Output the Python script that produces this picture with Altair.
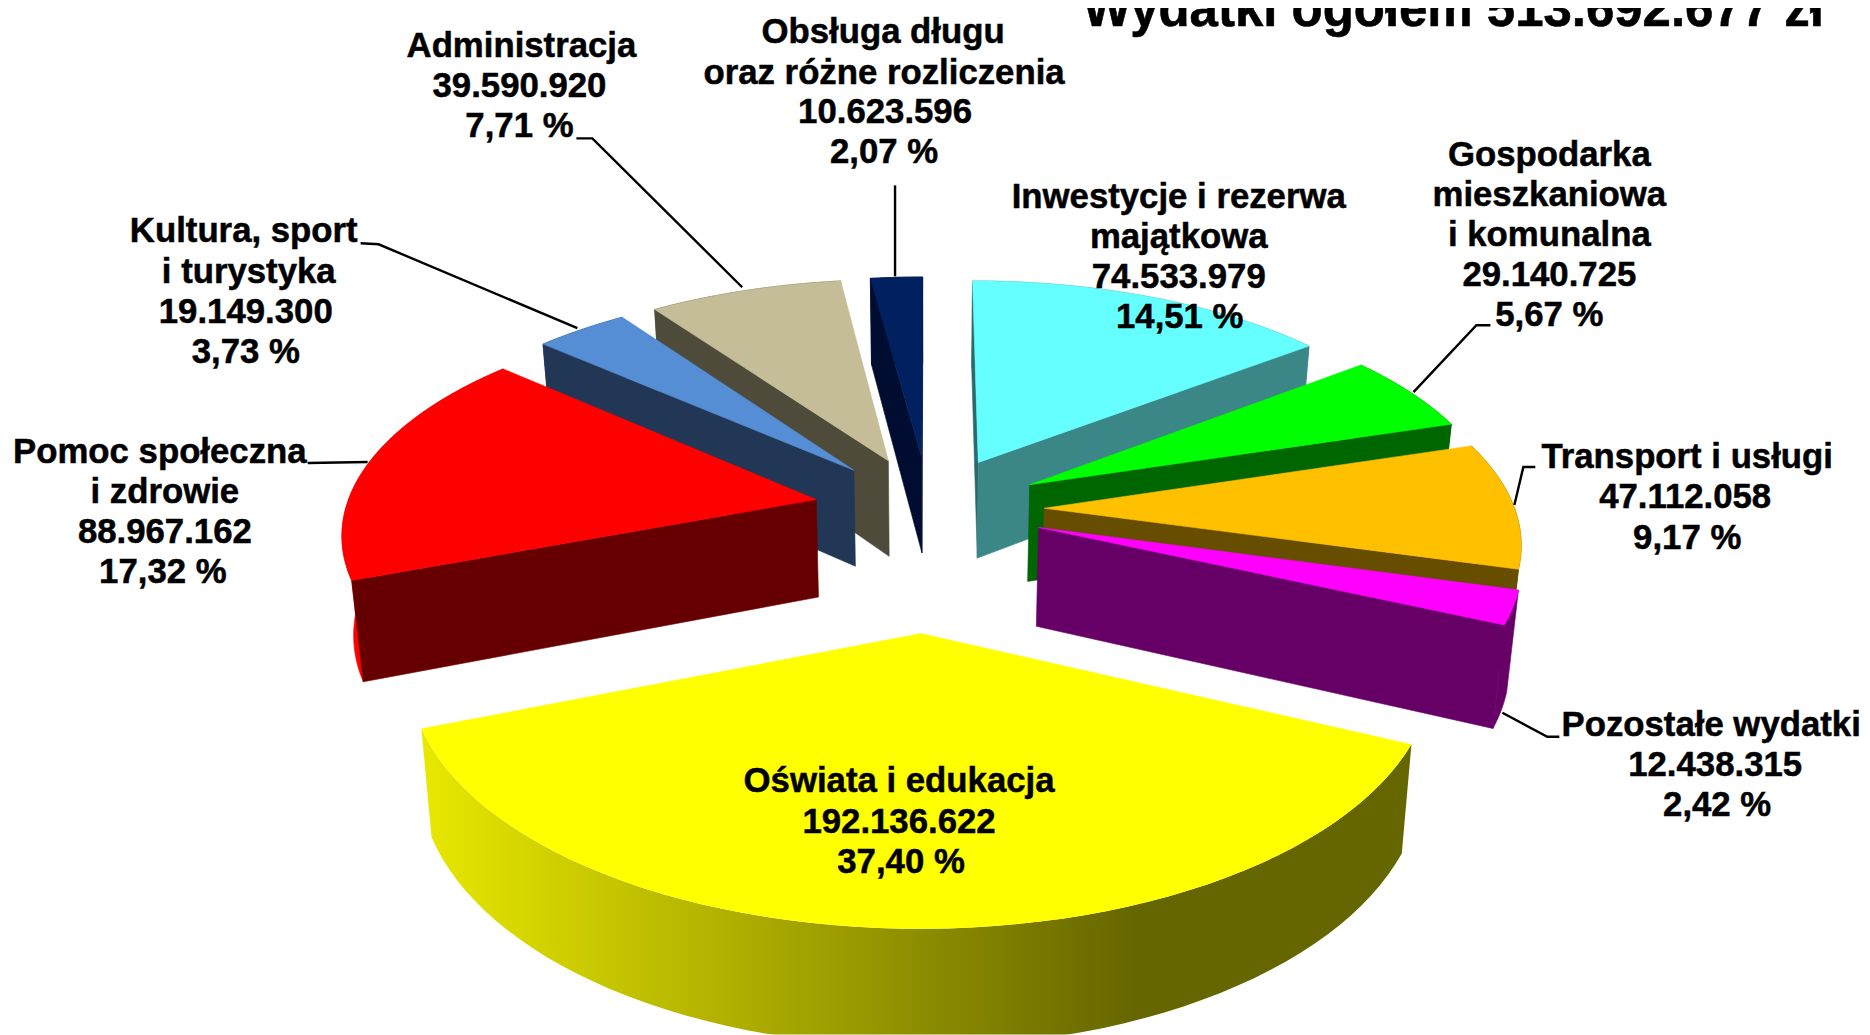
import math
import altair as alt
import pandas as pd

# ---- data ----
CATEGORIES = ["Inwestycje i rezerwa majątkowa", "Gospodarka mieszkaniowa i komunalna",
              "Transport i usługi", "Pozostałe wydatki", "Oświata i edukacja",
              "Pomoc społeczna i zdrowie", "Kultura, sport i turystyka",
              "Administracja", "Obsługa długu oraz różne rozliczenia"]
VALUES = [74533979, 29140725, 47112058, 12438315, 192136622, 88967162, 19149300, 39590920, 10623596]
TOP_COLORS = ["#66FFFF", "#00FF00", "#FFC000", "#FF00FF", "#FFFF00", "#FF0000", "#558ED5", "#C4BD97", "#002060"]
SIDE_COLORS = ["#3B8686", "#006600", "#664D00", "#660066", "#666600", "#660000", "#223655", "#4F4B3A", "#000D30"]
RIM_COLORS = ["#3B8686", "#006600", "#664D00", "#660066", "#666600", "#FF0000", "#223655", "#4F4B3A", "#000D30"]
START_CUT_COLORS = ["#2A6A6A", "#006600", "#664D00", "#660066", "#666600", "#660000", "#223655", "#4F4B3A", "#000D30"]
EXPLODE = [0.245, 0.245, 0.245, 0.245, 0.53, 0.245, 0.245, 0.245, 0.245]

LABEL_TEXT = ["Obsługa długu", "oraz różne rozliczenia", "10.623.596", "2,07 %",
              "Administracja", "39.590.920", "7,71 %",
              "Kultura, sport", "i turystyka", "19.149.300", "3,73 %",
              "Pomoc społeczna", "i zdrowie", "88.967.162", "17,32 %",
              "Inwestycje i rezerwa", "majątkowa", "74.533.979", "14,51 %",
              "Gospodarka", "mieszkaniowa", "i komunalna", "29.140.725", "5,67 %",
              "Transport i usługi", "47.112.058", "9,17 %",
              "Pozostałe wydatki", "12.438.315", "2,42 %",
              "Oświata i edukacja", "192.136.622", "37,40 %"]
LABEL_X = [884, 885, 886, 885,
           522, 520, 520,
           244, 249, 246, 246,
           160, 165, 165, 163,
           1180, 1180, 1180, 1181,
           1551, 1551, 1551, 1551, 1551,
           1689, 1687, 1689,
           1713, 1717, 1719,
           900, 900, 902]
LABEL_Y = [32, 74, 113, 153,
           46, 87, 127,
           232, 273, 313, 353,
           453, 493, 533, 573,
           198, 238, 278, 318,
           156, 196, 236, 276, 316,
           458, 498, 539,
           726, 766, 806,
           782, 823, 863]
TITLE = "Wydatki ogółem 513.692.677  zł"

LEADERS = [
    [(896, 185), (896, 276)],
    [(577, 138), (593, 138), (743, 287)],
    [(361, 243), (379, 244), (578, 328)],
    [(308, 463), (368, 462)],
    [(1415, 392), (1478, 325), (1492, 325)],
    [(1516, 505), (1525, 467), (1537, 467)],
    [(1504, 713), (1549, 737), (1561, 737)],
]

# ---- layout of the 3-D pie ----
W, H, OFF = 1856, 1027, 8
CX, CY, A, B, P, DEPTH, SHRINK = 930, 509, 471, 218, 0.135, 98, 0.98


def project(X, Z, low=False):
    s = 1 / (1 - P * Z)
    x = CX + A * X * s
    y = CY + B * Z * s
    if low:
        x = CX + (x - CX) * SHRINK
        y += DEPTH * s ** 0.8
    return [round(x, 2), round(y, 2)]


def area(poly):
    return sum(poly[i][0] * poly[(i + 1) % len(poly)][1] - poly[(i + 1) % len(poly)][0] * poly[i][1]
               for i in range(len(poly)))


def feat(poly, color):
    return {"type": "Feature", "properties": {"fill": color},
            "geometry": {"type": "Polygon", "coordinates": [poly + [poly[0]]]}}


total = sum(VALUES)
slices = []
cum = 0
for i, v in enumerate(VALUES):
    t1, t2 = cum / total * 2 * math.pi, (cum + v) / total * 2 * math.pi
    cum += v
    tm = (t1 + t2) / 2
    ax, az = EXPLODE[i] * math.sin(tm), -EXPLODE[i] * math.cos(tm)
    angs = [t1 + (t2 - t1) * k / 60 for k in range(61)]
    rim = [(ax + math.sin(t), az - math.cos(t)) for t in angs]
    slices.append((az, i, (ax, az), rim))

back, rim_yellow, top_yellow = [], [], []
for az, i, apex, rim in sorted(slices, key=lambda r: r[0]):
    top = [project(*apex)] + [project(*p) for p in rim]
    rim_poly = [project(*p) for p in rim] + [project(*p, low=True) for p in reversed(rim)]
    start = [project(*apex), project(*rim[0]), project(*rim[0], low=True), project(*apex, low=True)]
    end = [project(*apex), project(*rim[-1]), project(*rim[-1], low=True), project(*apex, low=True)]
    if i == 4:
        rim_yellow.append(feat(rim_poly, SIDE_COLORS[i]))
        top_yellow.append(feat(top, TOP_COLORS[i]))
        continue
    back.append(feat(rim_poly, RIM_COLORS[i]))
    if area(start) < 0:
        back.append(feat(start, START_CUT_COLORS[i]))
    if area(end) > 0:
        back.append(feat(end, SIDE_COLORS[i]))
    back.append(feat(top, TOP_COLORS[i]))


def geo(features, **mark):
    return alt.Chart(alt.Data(values=features)).mark_geoshape(clip=True, **mark).project(
        type="identity", scale=1, translate=[-OFF, -OFF])


xs = alt.Scale(domain=[OFF, OFF + W], range=[0, W])
ys = alt.Scale(domain=[OFF, OFF + H], range=[0, H])
X = lambda f: alt.X(f, type="quantitative", scale=xs, axis=None)
Y = lambda f: alt.Y(f, type="quantitative", scale=ys, axis=None)

slices_back = geo(back, strokeWidth=0.6).encode(
    fill=alt.Fill("properties.fill:N", scale=None),
    stroke=alt.Stroke("properties.fill:N", scale=None))
yellow_rim = geo(rim_yellow, fill=alt.Gradient(
    gradient="linear", x1=0, x2=1, y1=0, y2=0,
    stops=[alt.GradientStop(offset=0, color="#E8E800"),
           alt.GradientStop(offset=0.72, color="#666600"),
           alt.GradientStop(offset=1, color="#666600")]))
yellow_top = geo(top_yellow, fill=TOP_COLORS[4])

leader_rows = [{"id": k, "o": j, "x": p[0], "y": p[1]} for k, l in enumerate(LEADERS) for j, p in enumerate(l)]
leaders = alt.Chart(pd.DataFrame(leader_rows)).mark_line(color="black", strokeWidth=2.4).encode(
    x=X("x"), y=Y("y"), detail="id:N", order="o:Q")

labels = alt.Chart(pd.DataFrame({"t": LABEL_TEXT, "x": LABEL_X, "y": LABEL_Y})).mark_text(
    font="Liberation Sans", fontWeight="bold", fontSize=34.8, color="black", align="center", baseline="middle",
    stroke="black", strokeWidth=0.5
).encode(x=X("x"), y=Y("y"), text="t:N")

title = alt.Chart(pd.DataFrame({"t": [TITLE], "x": [1455], "y": [25]})).mark_text(
    font="Liberation Sans", fontWeight="bold", fontSize=51, color="black", align="center", baseline="alphabetic",
    stroke="black", strokeWidth=0.6
).encode(x=X("x"), y=Y("y"), text="t:N")

chart = alt.layer(slices_back, yellow_rim, yellow_top, leaders, labels, title).properties(
    width=W, height=H, padding=0, autosize=alt.AutoSizeParams(type="none"),
    background="white"
).configure_view(stroke=None)

chart.save("out.html", embed_options={"renderer": "svg", "actions": False})
